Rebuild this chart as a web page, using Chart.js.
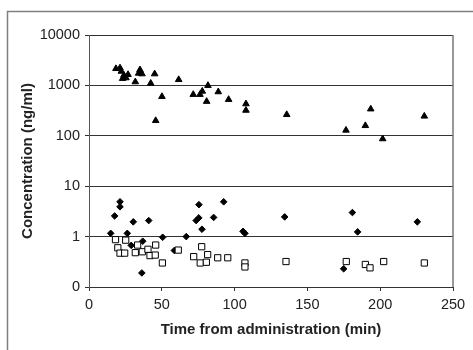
<!DOCTYPE html>
<html><head><meta charset="utf-8">
<script src="https://cdn.jsdelivr.net/npm/chart.js@4.4.0/dist/chart.umd.min.js"></script>
<style>html,body{margin:0;padding:0;background:#fff;}#wrap{width:473px;height:350px;position:relative;}</style>
</head><body><div id="wrap"><canvas id="c" width="473" height="350"></canvas></div>
<script>
// Triangles (upper cluster)
const triX = [18.5, 21.3, 22.2, 24.0, 23.1, 25.4, 26.8, 31.8, 35.0, 36.4, 34.1, 42.4, 45.1, 50.1, 45.8,
  61.6, 71.6, 76.2, 77.8, 80.8, 81.7, 88.8, 95.9, 107.8, 107.8,
  135.8, 176.5, 189.8, 193.5, 201.7, 230.3];
const triY = [2150, 2220, 1900, 1590, 1370, 1410, 1640, 1175, 2040, 1690, 1740, 1100, 1690, 600, 200,
  1300, 660, 660, 765, 480, 995, 745, 525, 430, 320,
  263, 129, 159, 340, 87, 245];
// Diamonds (middle cluster)
const diaX = [14.9, 17.6, 21.3, 21.3, 26.3, 29.0, 30.4, 36.9, 36.3, 41.0, 50.6, 58.6, 66.8, 73.6, 75.4, 75.5,
  77.6, 85.6, 92.5, 105.8, 107.1, 134.4, 174.9, 180.9, 184.5, 225.5];
const diaY = [1.16, 2.57, 4.9, 3.9, 1.16, 0.67, 1.96, 0.81, 0.19, 2.08, 0.97, 0.53, 1.0, 2.08, 2.35, 4.3,
  1.4, 2.4, 4.9, 1.27, 1.16, 2.46, 0.23, 3.0, 1.24, 1.96];
// Open squares (lower cluster)
const sqX = [18.2, 19.8, 21.3, 24.5, 25.2, 31.8, 33.4, 36.6, 40.5, 41.9, 45.8, 45.5, 50.4,
  61.3, 77.4, 71.9, 81.5, 76.4, 80.6, 88.4, 95.3, 107.1, 107.1,
  135.3, 176.7, 189.8, 193.0, 202.4, 230.3];
const sqY = [0.87, 0.6, 0.47, 0.47, 0.85, 0.48, 0.68, 0.5, 0.56, 0.42, 0.68, 0.43, 0.30,
  0.54, 0.63, 0.40, 0.44, 0.30, 0.31, 0.38, 0.38, 0.30, 0.25,
  0.32, 0.32, 0.28, 0.24, 0.32, 0.30];

const yTickValues = [0.1, 1, 10, 100, 1000, 10000];
const yTickLabels = ['0', '1', '10', '100', '1000', '10000'];
const xTitle = 'Time from administration (min)';
const yTitle = 'Concentration (ng/ml)';

const pts = (xs, ys) => xs.map((x, i) => ({x: x, y: ys[i]}));

const framePlugin = {
  id: 'frame',
  beforeDraw(chart) {
    const ctx = chart.ctx;
    ctx.save();
    ctx.strokeStyle = '#808080';
    ctx.lineWidth = 1.5;
    ctx.strokeRect(7.5, 11.5, 480, 400);
    ctx.restore();
  },
  beforeDatasetsDraw(chart) {
    const a = chart.chartArea, ctx = chart.ctx;
    ctx.save();
    ctx.strokeStyle = '#777';
    ctx.lineWidth = 1.5;
    ctx.beginPath();
    ctx.moveTo(a.right, a.top);
    ctx.lineTo(a.right, a.bottom);
    ctx.stroke();
    ctx.restore();
  }
};

Chart.defaults.font.family = '"Liberation Sans", Arial, sans-serif';

new Chart(document.getElementById('c'), {
  type: 'scatter',
  data: {
    datasets: [
      {data: pts(sqX, sqY), order: 0, pointStyle: 'rect', radius: 4.4, backgroundColor: '#fff', borderColor: '#000', borderWidth: 1},
      {data: pts(diaX, diaY), order: 1, pointStyle: 'rectRot', radius: 3.3, backgroundColor: '#000', borderColor: '#000', borderWidth: 1},
      {data: pts(triX, triY), order: 2, pointStyle: 'triangle', radius: 3.8, backgroundColor: '#000', borderColor: '#000', borderWidth: 1}
    ]
  },
  options: {
    responsive: false,
    animation: false,
    devicePixelRatio: 1,
    layout: {padding: {left: 0, top: 35, right: 20, bottom: 0}},
    plugins: {legend: {display: false}, tooltip: {enabled: false}},
    scales: {
      x: {
        type: 'linear', min: 0, max: 250,
        ticks: {stepSize: 50, color: '#222', font: {size: 14.5}, padding: 5},
        grid: {drawOnChartArea: false, drawTicks: true, tickLength: 4, color: '#333'},
        border: {color: '#333', width: 1},
        title: {display: true, text: xTitle, color: '#222', font: {size: 15, weight: 'bold'}, padding: {top: 0, bottom: 11}},
        afterFit: s => { s.height = 63; }
      },
      y: {
        type: 'logarithmic', min: 0.1, max: 10000,
        afterBuildTicks: s => { s.ticks = yTickValues.map(v => ({value: v})); },
        ticks: {color: '#222', font: {size: 14.5}, padding: 5,
          callback: (v) => { const i = yTickValues.indexOf(v); return i >= 0 ? yTickLabels[i] : ''; }},
        grid: {color: '#333', tickLength: 4, lineWidth: 1},
        border: {color: '#555', width: 1},
        title: {display: true, text: yTitle, color: '#222', font: {size: 15, weight: 'bold'}, padding: {top: 19, bottom: 0}},
        afterFit: s => { s.width = 89; }
      }
    }
  },
  plugins: [framePlugin]
});
</script></body></html>
